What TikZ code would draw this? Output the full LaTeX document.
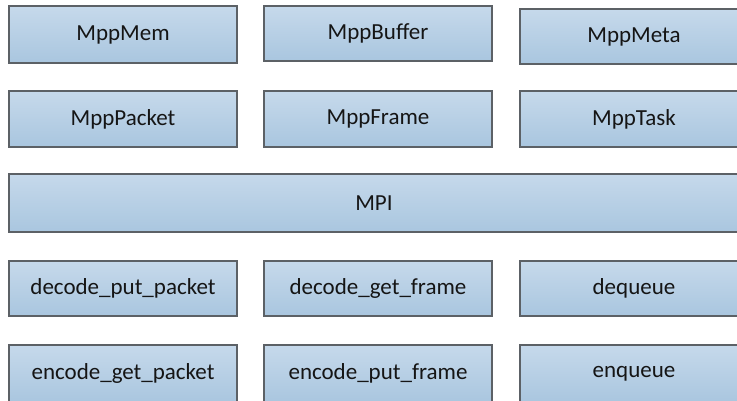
\documentclass[tikz,border=0pt]{standalone}
\usepackage{fontspec}
\setmainfont{Carlito}
\definecolor{boxtop}{HTML}{C6D9EB}
\definecolor{boxbot}{HTML}{A9C6DF}
\definecolor{boxline}{HTML}{5C6166}
\definecolor{labeltext}{HTML}{151515}
\begin{document}
\begin{tikzpicture}[x=1pt,y=1pt,
  blk/.style={draw=boxline, line width=1.3pt, top color=boxtop, bottom color=boxbot,
    rectangle, anchor=north west, inner sep=0pt, outer sep=0pt,
    minimum width=228pt, minimum height=57pt,
    font=\fontsize{23}{27}\selectfont, text=labeltext},
  wide/.style={blk, minimum width=760pt, minimum height=58pt}]
  \useasboundingbox (0,0) rectangle (737,-400);
  \clip (0,0) rectangle (737,-400);
  % first row: memory objects
  \node[blk] (mem)    at (9,-6)   {MppMem};
  \node[blk, minimum height=55pt] (buffer) at (264,-6) {MppBuffer};
  \node[blk, minimum height=55pt] (meta)   at (520,-9) {MppMeta};
  % second row: data containers
  \node[blk, minimum height=56pt] (packet) at (9,-91)   {MppPacket};
  \node[blk, minimum height=56pt] (frame)  at (264,-91) {MppFrame};
  \node[blk, minimum height=56pt] (task)   at (520,-91) {MppTask};
  % interface layer
  \node[wide] (mpi) at (9,-174) {\hspace*{-30pt}MPI};
  % third and fourth rows: interface calls
  \node[blk, minimum height=55pt] (decput)  at (9,-261)   {decode\_put\_packet};
  \node[blk, minimum height=55pt] (decget)  at (264,-261) {decode\_get\_frame};
  \node[blk, minimum height=55pt] (deq)     at (520,-261) {dequeue};
  \node[blk] (encget)  at (9,-345)   {encode\_get\_packet};
  \node[blk] (encput)  at (264,-345) {encode\_put\_frame};
  \node[blk] (enq)     at (520,-345) {enqueue};
\end{tikzpicture}
\end{document}
